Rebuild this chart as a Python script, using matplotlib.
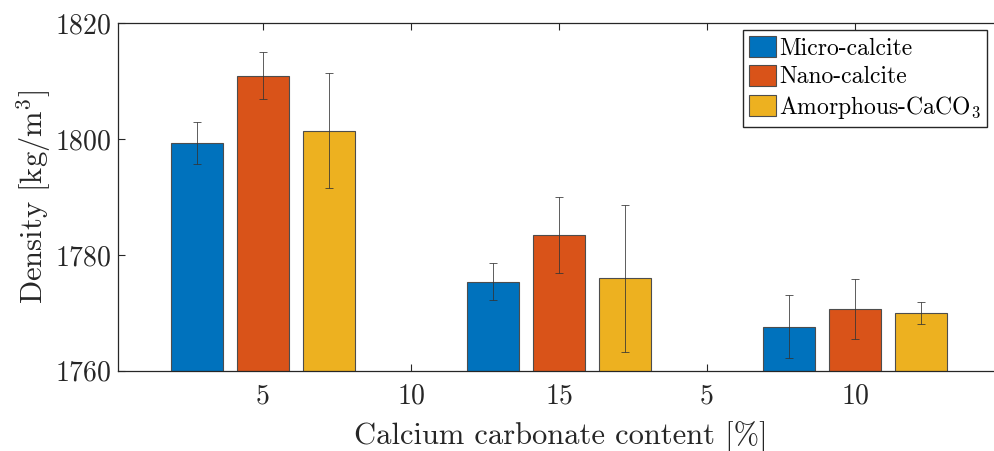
import numpy as np
import matplotlib
matplotlib.use("Agg")
from matplotlib import pyplot as plt

plt.rcParams['font.family'] = 'serif'
plt.rcParams['font.serif'] = ['cmr10']
plt.rcParams['mathtext.fontset'] = 'cm'
plt.rcParams['axes.formatter.use_mathtext'] = True

# densities per group (x = 1, 3, 5) with standard deviations
groups = [1, 3, 5]
micro = [1799.4, 1775.4, 1767.6]
micro_err = [3.6, 3.2, 5.4]
nano = [1811.0, 1783.4, 1770.6]
nano_err = [4.1, 6.6, 5.2]
amorph = [1801.5, 1776.0, 1769.9]
amorph_err = [10.0, 12.7, 1.9]

tick_pos = [1, 2, 3, 4, 5]
tick_labels = ['5', '10', '15', '5', '10']
yticks = [1760, 1780, 1800, 1820]

colors = ['#0072BD', '#D95319', '#EDB120']
names = ['Micro-calcite', 'Nano-calcite', 'Amorphous-CaCO$_3$']

fig = plt.figure(figsize=(9.94, 4.51), dpi=100)
# axes run a bit past the right border, so the right spine is cut off
ax = fig.add_axes([118 / 994, 0.178, 885 / 994, 0.770])

w = 0.355
off = 0.446
x = np.array(groups, dtype=float)
series = [(micro, micro_err), (nano, nano_err), (amorph, amorph_err)]
for i, (vals, errs) in enumerate(series):
    xs = x + (i - 1) * off
    ax.bar(xs, vals, width=w, color=colors[i], edgecolor='#4d4d4d',
           linewidth=0.8, label=names[i], zorder=2)
    ax.errorbar(xs, vals, yerr=errs, fmt='none', ecolor='#333333',
                elinewidth=0.7, capsize=3, capthick=0.7, alpha=0.8, zorder=3)

ax.set_xlim(0.02, 6)
ax.set_ylim(1760, 1820)
ax.set_xticks(tick_pos)
ax.set_xticklabels(tick_labels)
ax.set_yticks(yticks)
ax.tick_params(direction='in', top=True, right=True, length=5, width=0.8,
               labelsize=20, colors='#262626')
ax.tick_params(axis='y', pad=5)
ax.tick_params(axis='x', pad=9)
for s in ax.spines.values():
    s.set_color('#262626')
    s.set_linewidth(0.9)

ax.set_xlabel('Calcium carbonate content [%]', fontsize=22, color='#262626',
              labelpad=8)
ax.set_ylabel('Density [kg/m$^3$]', fontsize=22, color='#262626', labelpad=1)

h, l = ax.get_legend_handles_labels()
fig.legend(h, l, loc='upper right', bbox_to_anchor=(987 / 994, 1 - 30 / 451),
           borderaxespad=0, fancybox=False, framealpha=1, edgecolor='#262626',
           fontsize=17, handlelength=1.15, handleheight=1.0, handletextpad=0.15,
           borderpad=0.25, labelspacing=0.22)

fig.savefig('out.png', dpi=100)
